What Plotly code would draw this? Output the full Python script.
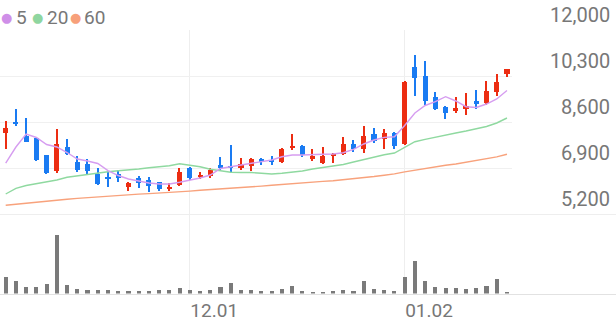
import plotly.graph_objects as go

# ---------------- data ----------------
dates = [
    "2022-11-07", "2022-11-08", "2022-11-09", "2022-11-10", "2022-11-11",
    "2022-11-14", "2022-11-15", "2022-11-16", "2022-11-17", "2022-11-18",
    "2022-11-21", "2022-11-22", "2022-11-23", "2022-11-24", "2022-11-25",
    "2022-11-28", "2022-11-29", "2022-11-30",
    "2022-12-01", "2022-12-02", "2022-12-05", "2022-12-06", "2022-12-07",
    "2022-12-08", "2022-12-09", "2022-12-12", "2022-12-13", "2022-12-14",
    "2022-12-15", "2022-12-16", "2022-12-19", "2022-12-20", "2022-12-21",
    "2022-12-22", "2022-12-23", "2022-12-26", "2022-12-27", "2022-12-28",
    "2022-12-29",
    "2023-01-02", "2023-01-03", "2023-01-04", "2023-01-05", "2023-01-06",
    "2023-01-09", "2023-01-10", "2023-01-11", "2023-01-12", "2023-01-13",
    "2023-01-16",
]

open_ = [8204, 8589, 8082, 7997, 7380, 6789, 7687, 7132, 7047, 6678,
         6578, 6678, 6209, 6519, 6456, 6371, 6123, 6271, 6888, 6556,
         6615, 7010, 6985, 6911, 6973, 7221, 7195, 7132, 7650, 7724,
         7243, 7073, 7380, 7417, 7776, 7591, 8145, 7960, 8204, 7776,
         10644, 10311, 9513, 9165, 9006, 9069, 9376, 9291, 9720, 10363]
high = [8648, 9069, 8737, 8027, 7399, 8330, 7960, 7343, 7232, 6888,
        6763, 6826, 6393, 6604, 6556, 6393, 6334, 6888, 6948, 6763,
        6911, 7295, 7750, 7282, 7258, 7282, 7343, 7650, 8145, 7750,
        7591, 7665, 7465, 8034, 7934, 8463, 8367, 8330, 8241, 10115,
        11076, 10865, 9720, 9191, 9513, 9660, 9782, 10115, 10374, 10559]
low = [7591, 8463, 7849, 7158, 6678, 6704, 7390, 6763, 6641, 6290,
       6186, 6393, 6049, 6149, 6024, 6060, 6060, 6234, 6456, 6482,
       6519, 6826, 6741, 6826, 6789, 7010, 7010, 7073, 7565, 7317,
       7169, 7047, 7073, 7380, 7502, 7465, 7812, 7591, 7591, 7750,
       9561, 9228, 9043, 8700, 8943, 8858, 9069, 9228, 9561, 10274]
close = [8389, 8526, 7860, 7195, 6726, 7787, 7417, 6826, 6789, 6308,
         6504, 6519, 6334, 6334, 6234, 6112, 6209, 6763, 6519, 6641,
         6826, 6888, 6911, 7036, 7221, 7132, 7132, 7602, 7724, 7380,
         7343, 7354, 7417, 7776, 7591, 8082, 7897, 8204, 7713, 10089,
         10215, 9376, 9069, 8943, 9106, 9202, 9265, 9757, 10089, 10548]

ma5 = [7084, 7676, 8156, 8027, 7768, 7676, 7472, 7232, 7158, 7066,
       6807, 6622, 6493, 6412, 6345, 6308, 6308, 6375, 6456, 6530,
       6641, 6881, 6948, 7010, 7073, 7132, 7195, 7317, 7380, 7380,
       7406, 7406, 7417, 7465, 7591, 7787, 7934, 8034, 8056, 8470,
       8932, 9210, 9350, 9535, 9376, 9165, 9136, 9265, 9450, 9764]
ma20 = [5939, 6149, 6253, 6319, 6375, 6456, 6556, 6611, 6656, 6704,
        6763, 6800, 6826, 6863, 6911, 6948, 6985, 7058, 7010, 6948,
        6855, 6789, 6741, 6733, 6733, 6704, 6678, 6704, 6741, 6789,
        6863, 6918, 6962, 7029, 7121, 7214, 7306, 7391, 7454, 7676,
        7872, 7960, 8045, 8119, 8193, 8267, 8341, 8433, 8563, 8748]
ma60 = [5521, 5562, 5606, 5647, 5680, 5713, 5747, 5776, 5806, 5835,
        5861, 5883, 5913, 5935, 5953, 5972, 5990, 6016, 6046, 6075,
        6097, 6120, 6142, 6171, 6201, 6231, 6260, 6293, 6327, 6360,
        6382, 6404, 6430, 6463, 6508, 6545, 6585, 6633, 6682, 6759,
        6826, 6889, 6959, 7003, 7047, 7114, 7177, 7236, 7313, 7410]

volume = [835000, 615000, 335000, 335000, 500000, 2915000, 415000, 250000, 200000, 165000,
          165000, 150000, 115000, 115000, 135000, 165000, 165000, 285000, 200000, 150000,
          165000, 315000, 535000, 200000, 165000, 150000, 150000, 250000, 365000, 125000,
          100000, 100000, 125000, 175000, 125000, 640000, 225000, 175000, 140000, 840000,
          1625000, 640000, 340000, 260000, 260000, 225000, 290000, 390000, 710000, 60000]

price_ticks = [5200, 6900, 8600, 10300, 12000]
x_tick_dates = ["2022-12-01", "2023-01-02"]
x_tick_labels = ["12.01", "01.02"]
ma_names = ["5", "20", "60"]

# ---------------- style ----------------
W, H = 616, 321
UP, DOWN = "#ec2d12", "#1a7bf2"
MA_COLORS = ["#d69df0", "#8fd9a0", "#f8a27c"]
DOT_COLORS = ["#cf8fe8", "#8fd6a0", "#f7a07a"]
FONT = "Roboto"
TXT = "#777777"


def py(px):
    return 1 - px / H


def pxx(px):
    return px / W


colors = [UP if c >= o else DOWN for o, c in zip(open_, close)]

fig = go.Figure()

# wicks
fig.add_trace(go.Bar(
    x=dates, y=[h - l for h, l in zip(high, low)], base=low,
    width=0.13, marker=dict(color=colors, line=dict(width=0)),
    xaxis="x", yaxis="y", showlegend=False, hoverinfo="skip"))
# bodies
fig.add_trace(go.Bar(
    x=dates, y=[abs(c - o) for o, c in zip(open_, close)],
    base=[min(o, c) for o, c in zip(open_, close)],
    width=0.5, marker=dict(color=colors, line=dict(width=0)),
    xaxis="x", yaxis="y", showlegend=False))

for vals, col, name in [(ma60, MA_COLORS[2], "60"), (ma20, MA_COLORS[1], "20"), (ma5, MA_COLORS[0], "5")]:
    fig.add_trace(go.Scatter(
        x=dates, y=vals, mode="lines", name=name,
        line=dict(color=col, width=1.4), xaxis="x", yaxis="y",
        showlegend=False, hoverinfo="skip"))

# volume
fig.add_trace(go.Bar(
    x=dates, y=volume, width=0.4, marker=dict(color="#7a7a7a", line=dict(width=0)),
    xaxis="x2", yaxis="y2", showlegend=False))

x_left = -0.557
unit_px = 10.23
price_right_px = 512

layout_annotations = []
dot_x = [6.7, 37.3, 75]
txt_x = [13.5, 44.5, 82]
for dx, tx, col, name in zip(dot_x, txt_x, DOT_COLORS, ma_names):
    layout_annotations.append(dict(
        x=pxx(dx), y=py(17), xref="paper", yref="paper", text="●",
        showarrow=False, xanchor="center", yanchor="middle",
        font=dict(family="DejaVu Sans", size=13, color=col)))
    layout_annotations.append(dict(
        x=pxx(tx), y=py(17.5), xref="paper", yref="paper", text=name,
        showarrow=False, xanchor="left", yanchor="middle",
        font=dict(family=FONT, size=19, color=TXT)))

# price scale labels (drawn above their grid lines, right-aligned)
for v in price_ticks:
    layout_annotations.append(dict(
        x=pxx(612), y=v, xref="paper", yref="y", text=f"{v:,}",
        showarrow=False, xanchor="right", yanchor="middle", yshift=15,
        font=dict(family=FONT, size=20, color=TXT)))

fig.update_layout(
    width=W, height=H,
    margin=dict(l=0, r=0, t=0, b=0),
    paper_bgcolor="white", plot_bgcolor="white",
    barmode="overlay",
    bargap=0,
    showlegend=False,
    font=dict(family=FONT, color=TXT),
    xaxis=dict(
        type="category", domain=[0, pxx(price_right_px)], anchor="y",
        range=[x_left, x_left + price_right_px / unit_px],
        tickmode="array", tickvals=x_tick_dates, ticktext=x_tick_labels,
        showticklabels=False, ticks="", showgrid=True, gridcolor="#eeeeee",
        gridwidth=1, zeroline=False, showline=False, fixedrange=True),
    yaxis=dict(
        domain=[py(214), py(30)], range=[price_ticks[0], price_ticks[-1]],
        tickmode="array", tickvals=price_ticks,
        showticklabels=False, side="right", ticks="",
        showgrid=True, gridcolor="#f0f0f0", gridwidth=1,
        zeroline=False, showline=False, fixedrange=True),
    xaxis2=dict(
        type="category", domain=[0, 1], anchor="y2",
        range=[x_left, x_left + W / unit_px],
        tickmode="array", tickvals=x_tick_dates, ticktext=x_tick_labels,
        ticklabelposition="outside right", ticks="",
        tickfont=dict(family=FONT, size=19, color=TXT),
        showgrid=True, gridcolor="#eeeeee", gridwidth=1,
        zeroline=False, showline=True, linecolor="#e2e2e2", linewidth=1,
        fixedrange=True),
    yaxis2=dict(
        domain=[py(293.5), py(215)], range=[0, 3925000],
        showgrid=False, showticklabels=False, zeroline=False, showline=False,
        fixedrange=True),
    annotations=layout_annotations,
    shapes=[dict(type="line", xref="paper", yref="paper", x0=0, x1=1,
                 y0=py(214.5), y1=py(214.5), line=dict(color="#eeeeee", width=1))],
)

fig.write_html("out.html")
